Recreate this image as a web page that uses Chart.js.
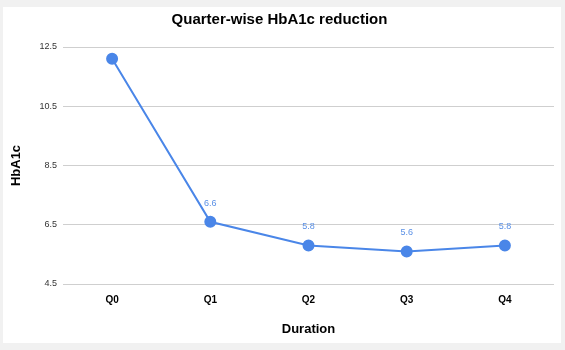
<!DOCTYPE html>
<html>
<head>
<meta charset="utf-8">
<script src="https://cdn.jsdelivr.net/npm/chart.js@4/dist/chart.umd.min.js"></script>
<style>
  html, body { margin: 0; padding: 0; background: #f1f1f1; }
  #card { position: absolute; left: 3px; top: 7px; width: 558px; height: 336px; background: #fff; }
</style>
</head>
<body>
<div id="card"><canvas id="hba1cChart" width="558" height="336"></canvas></div>
<script>
const quarters = ['Q0', 'Q1', 'Q2', 'Q3', 'Q4'];
const hba1cValues = [12.1, 6.6, 5.8, 5.6, 5.8];
const yTicks = [4.5, 6.5, 8.5, 10.5, 12.5];
// first point has no value label
const labelledFrom = 1;

const blue = '#4a86e8';

// small plugin that writes the value above each point
const pointValues = {
    id: 'pointValues',
    afterDatasetsDraw(chart) {
        const ctx = chart.ctx;
        const meta = chart.getDatasetMeta(0);
        ctx.save();
        ctx.font = '9px "Liberation Sans", Arial, sans-serif';
        ctx.fillStyle = '#5a90e6';
        ctx.textAlign = 'center';
        ctx.textBaseline = 'bottom';
        meta.data.forEach(function (pt, i) {
            if (i < labelledFrom) return;
            ctx.fillText(hba1cValues[i].toFixed(1), pt.x, pt.y - 14);
        });
        ctx.restore();
    }
};

new Chart(document.getElementById('hba1cChart'), {
    type: 'line',
    data: {
        labels: quarters,
        datasets: [{
            label: 'HbA1c',
            data: hba1cValues,
            borderColor: blue,
            backgroundColor: blue,
            borderWidth: 2,
            pointRadius: 5,
            pointHoverRadius: 5,
            tension: 0,
            fill: false
        }]
    },
    options: {
        responsive: false,
        animation: false,
        layout: { padding: { left: 0, right: 5, top: 0, bottom: 0 } },
        plugins: {
            legend: { display: false },
            tooltip: { enabled: false },
            title: {
                display: true,
                text: 'Quarter-wise HbA1c reduction',
                color: '#000',
                font: { family: '"Liberation Sans", Arial, sans-serif', size: 15, weight: 'bold' },
                padding: { top: 4, bottom: 18 }
            }
        },
        scales: {
            x: {
                offset: true,
                grid: { display: false },
                border: { display: false },
                ticks: {
                    color: '#000',
                    padding: 2,
                    font: { family: '"Liberation Sans", Arial, sans-serif', size: 10, weight: 'bold' }
                },
                title: {
                    display: true,
                    text: 'Duration',
                    color: '#000',
                    font: { family: '"Liberation Sans", Arial, sans-serif', size: 13, weight: 'bold' },
                    padding: { top: 0, bottom: 6 }
                },
                afterFit(axis) { axis.height = 59; }
            },
            y: {
                min: 4.5,
                max: 12.5,
                afterBuildTicks(axis) { axis.ticks = yTicks.map(v => ({ value: v })); },
                grid: { color: '#cfcfcf', drawTicks: false, lineWidth: 1 },
                border: { display: false },
                ticks: {
                    color: '#333',
                    padding: 6,
                    callback: v => v.toFixed(1),
                    font: { family: '"Liberation Sans", Arial, sans-serif', size: 9 }
                },
                title: {
                    display: true,
                    text: 'HbA1c',
                    color: '#000',
                    font: { family: '"Liberation Sans", Arial, sans-serif', size: 13, weight: 'bold' },
                    padding: { top: 6, bottom: 0 }
                },
                afterFit(axis) { axis.width = 60; }
            }
        }
    },
    plugins: [pointValues]
});
</script>
</body>
</html>
